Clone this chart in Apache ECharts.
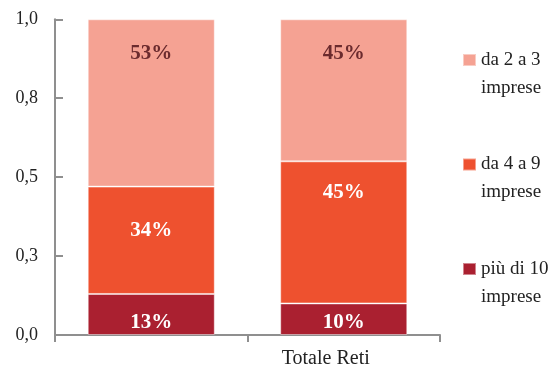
<!DOCTYPE html>
<html>
<head>
<meta charset="utf-8">
<script src="https://cdn.jsdelivr.net/npm/echarts@6/dist/echarts.min.js"></script>
<style>
html,body{margin:0;padding:0;background:#fff;}
#chart{width:558px;height:370px;}
</style>
</head>
<body>
<div id="chart"></div>
<script>
var categories = ['', 'Totale Reti'];
var seriesNames = ['più di 10\nimprese', 'da 4 a 9\nimprese', 'da 2 a 3\nimprese'];
var valuesOver10 = [0.13, 0.10];
var values4to9 = [0.34, 0.45];
var values2to3 = [0.53, 0.45];
var yTickLabels = ['0,0', '0,3', '0,5', '0,8', '1,0'];

var FONT = 'Liberation Serif';
var colors = ['#AA2030', '#EE512F', '#F5A293'];
var orangeLabelDist = [33, 21];

function pct(p) { return Math.round(p.value * 100) + '%'; }

var chart = echarts.init(document.getElementById('chart'), null, {renderer: 'canvas'});
chart.setOption({
  animation: false,
  grid: {left: 55, right: 118, top: 19.3, bottom: 35},
  legend: {
    orient: 'vertical',
    left: 462,
    top: 18,
    padding: 0,
    itemWidth: 13,
    itemHeight: 12,
    itemGap: 20.5,
    icon: 'rect',
    data: [seriesNames[2], seriesNames[1], seriesNames[0]],
    formatter: function (name) { return '\n' + name; },
    textStyle: {fontFamily: FONT, fontSize: 19, color: '#222', lineHeight: 28}
  },
  xAxis: {
    type: 'category',
    data: categories,
    boundaryGap: true,
    axisLine: {lineStyle: {color: '#8f8f8f', width: 2}},
    axisTick: {show: true, interval: 0, length: 7, lineStyle: {color: '#8f8f8f', width: 2}},
    axisLabel: {fontFamily: FONT, fontSize: 20, color: '#222', margin: 14, padding: [0, 36, 0, 0]}
  },
  yAxis: {
    type: 'value',
    min: 0, max: 1, interval: 0.25,
    splitLine: {show: false},
    axisLine: {show: true, lineStyle: {color: '#8f8f8f', width: 2}},
    axisTick: {show: true, inside: true, length: 8, lineStyle: {color: '#8f8f8f', width: 2}},
    axisLabel: {
      fontFamily: FONT, fontSize: 18, color: '#222', margin: 17,
      formatter: function (v) { return yTickLabels[Math.round(v / 0.25)]; }
    }
  },
  series: [
    {
      name: seriesNames[0], type: 'bar', stack: 'a', barWidth: '66%',
      data: valuesOver10,
      itemStyle: {color: colors[0], borderColor: 'rgba(255,255,255,0.45)', borderWidth: 1},
      label: {show: true, position: 'insideBottom', distance: 2, formatter: pct,
        fontFamily: FONT, fontSize: 21, fontWeight: 'bold', color: '#fff'}
    },
    {
      name: seriesNames[1], type: 'bar', stack: 'a',
      data: values4to9.map(function (v, i) { return {value: v, label: {distance: orangeLabelDist[i]}}; }),
      itemStyle: {color: colors[1], borderColor: 'rgba(255,255,255,0.45)', borderWidth: 1},
      label: {show: true, position: 'insideTop', formatter: pct,
        fontFamily: FONT, fontSize: 21, fontWeight: 'bold', color: '#fff'}
    },
    {
      name: seriesNames[2], type: 'bar', stack: 'a',
      data: values2to3,
      itemStyle: {color: colors[2], borderColor: 'rgba(255,255,255,0.45)', borderWidth: 1},
      label: {show: true, position: 'insideTop', distance: 24, formatter: pct,
        fontFamily: FONT, fontSize: 21, fontWeight: 'bold', color: '#6B2B2E'}
    }
  ]
});
</script>
</body>
</html>
